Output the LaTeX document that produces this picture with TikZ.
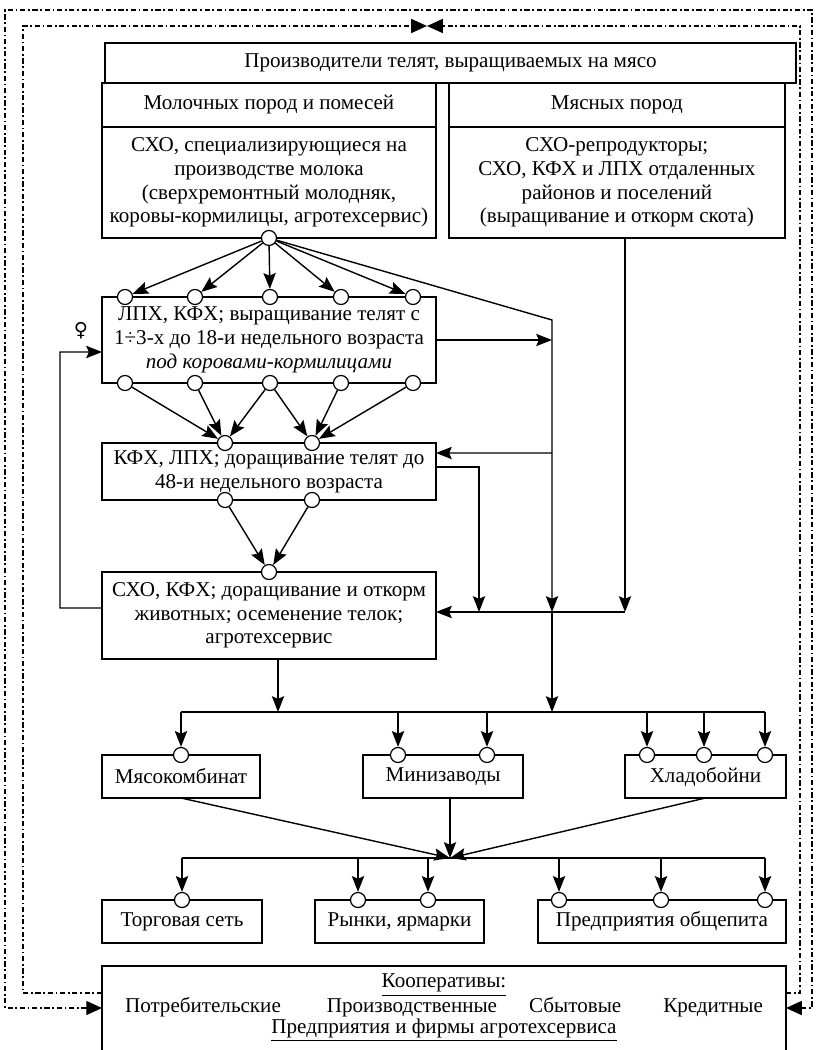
\documentclass[tikz,border=0pt]{standalone}
\usepackage{fontspec}
\setmainfont{Liberation Serif}
\newfontfamily\dejavu{DejaVu Sans}
\usetikzlibrary{arrows.meta, positioning, calc}

\begin{document}
\begin{tikzpicture}[
      x=0.02cm, y=-0.02cm,
      font=\fontsize{12}{13.5}\selectfont,
      box/.style={draw, line width=0.9pt, rectangle, align=center, inner sep=2pt, outer sep=0pt},
      port/.style={draw, line width=0.7pt, circle, fill=white, minimum size=0.3cm, inner sep=0pt},
      arrow/.style={line width=0.8pt, ->, >={Stealth[length=9pt,width=7pt,inset=1.5pt]}},
      link/.style={line width=0.8pt},
      dashloop/.style={line width=0.7pt, dash pattern=on 3pt off 1.5pt on 1pt off 1.5pt, >={Stealth[length=9pt,width=8pt,inset=0pt]}}
        ]
        \useasboundingbox (0,0) rectangle (815,1050);

        % Producers
        \node (prod) [box, minimum width=13.82cm, minimum height=0.8cm] at (450.5,63) {Производители телят, выращиваемых на мясо};
        \node (dairyh) [box, minimum width=6.68cm, minimum height=0.88cm, anchor=north west] at (102,83) {Молочных пород и помесей};
        \node (beefh) [box, minimum width=6.72cm, minimum height=0.88cm, right=0.26cm of dairyh] {Мясных пород};
        \node (dairy) [box, minimum width=6.68cm, minimum height=2.22cm, below=0pt of dairyh] {СХО, специализирующиеся на\\ производстве молока\\ (сверхремонтный молодняк,\\ коровы-кормилицы, агротехсервис)};
        \node (beef) [box, minimum width=6.72cm, minimum height=2.22cm, below=0pt of beefh] {СХО-репродукторы;\\ СХО, КФХ и ЛПХ отдаленных\\ районов и поселений\\ (выращивание и откорм скота)};

        % Growing stages
        \node (lph) [box, minimum width=6.68cm, minimum height=1.72cm] at (269,340) {ЛПХ, КФХ; выращивание телят с\\ 1÷3-х до 18-и недельного возраста\\ \textit{под коровами-кормилицами}};
        \node (kfh) [box, minimum width=6.68cm, minimum height=1.14cm] at (269,471.5) {КФХ, ЛПХ; доращивание телят до\\ 48-и недельного возраста};
        \node (sho) [box, minimum width=6.68cm, minimum height=1.74cm] at (269,615.5) {СХО, КФХ; доращивание и откорм\\ животных; осеменение телок;\\ агротехсервис};

        % Processing
        \node (meat) [box, minimum width=3.16cm, minimum height=0.86cm] at (181,776.5) {Мясокомбинат};
        \node (mini) [box, minimum width=3.2cm, minimum height=0.86cm] at (443,776.5) {Минизаводы};
        \node (cold) [box, minimum width=3.22cm, minimum height=0.86cm] at (705.5,776.5) {Хладобойни};

        % Sales
        \node (trade) [box, minimum width=3.2cm, minimum height=0.86cm] at (182,921.5) {Торговая сеть};
        \node (market) [box, minimum width=3.38cm, minimum height=0.86cm] at (399.5,921.5) {Рынки, ярмарки};
        \node (food) [box, minimum width=4.96cm, minimum height=0.86cm] at (662,921.5) {Предприятия общепита};

        % Cooperatives
        \node (coop) [box, minimum width=13.68cm, minimum height=1.9cm, anchor=north] at (444,966) {};
        \node (cooptxt) [align=center, inner sep=0pt, font=\fontsize{12}{12}\selectfont] at (444,1008) {\underline{Кооперативы:}\\ Потребительские\hspace{0.92cm}Производственные\hspace{0.64cm}Сбытовые\hspace{0.84cm}Кредитные\\ \underline{Предприятия и фирмы агротехсервиса}};

        % Ports
        \node (d0) [port] at (dairy.south) {};
        \foreach \i/\x in {1/125,2/195,3/270,4/341,5/413} {
          \node (lt\i) [port] at (\x,297) {};
          \node (lb\i) [port] at (\x,383) {};
        }
        \node (kt1) [port] at (225,443) {};
        \node (kt2) [port] at (312,443) {};
        \node (kb1) [port] at (225,500) {};
        \node (kb2) [port] at (312,500) {};
        \node (st) [port] at (sho.north) {};
        \node (mp) [port] at (meat.north) {};
        \node (n1) [port] at (398,755) {};
        \node (n2) [port] at (487,755) {};
        \node (c1) [port] at (647,755) {};
        \node (c2) [port] at (704,755) {};
        \node (c3) [port] at (765,755) {};
        \node (tp) [port] at (trade.north) {};
        \node (r1) [port] at (358,900) {};
        \node (r2) [port] at (428,900) {};
        \node (f1) [port] at (559,900) {};
        \node (f2) [port] at (661,900) {};
        \node (f3) [port] at (765,900) {};

        % Junctions
        \coordinate (j1) at (552,320);
        \coordinate (j2) at (552,612);
        \coordinate (b1) at (552,712);
        \coordinate (q1) at (625,612);
        \coordinate (k1) at (552,453);
        \coordinate (k2) at (479,612);
        \coordinate (b0) at (278,712);
        \coordinate (fb) at (60,352);
        \coordinate (m0) at (450,858);

        % Arrows from dairy farms
        \foreach \i in {1,...,5} \draw [arrow] (d0) -- (lt\i);
        \draw [arrow] (d0) -- (j1) -- (j2);
        \draw [arrow] (j2) -- (b1);
        \draw [arrow] (beef.south -| q1) -- (q1);
        \draw [arrow] (q1) -- (sho.east |- q1);
        \draw [arrow] (lph.east) -- (lph.east -| j1);
        \draw [arrow] (k1) -- ([yshift=0.37cm]kfh.east);
        \draw [arrow] ([yshift=0.09cm]kfh.east) -| (k2);

        % Between the stages
        \foreach \a/\b in {lb1/kt1,lb2/kt1,lb3/kt1,lb3/kt2,lb4/kt2,lb5/kt2,kb1/st,kb2/st}
          \draw [arrow] (\a) -- (\b);
        \draw [arrow] ([yshift=0.15cm]sho.west) -| (fb) -- ([yshift=-0.24cm]lph.west);
        \node (venus) at (81,331) {\dejavu\fontsize{11}{11}\selectfont ♀};

        % To processing
        \draw [arrow] (sho.south -| b0) -- (b0);
        \draw [link] (mp |- b0) -- (c3 |- b0);
        \foreach \p in {mp,n1,n2,c1,c2,c3} \draw [arrow] (\p |- b0) -- (\p);

        % To sales
        \draw [arrow] (meat.south) -- (m0);
        \draw [arrow] (mini.south -| m0) -- (m0);
        \draw [arrow] (cold.south) -- (m0);
        \draw [link] (tp |- m0) -- (f3 |- m0);
        \foreach \p in {tp,r1,r2,f1,f2,f3} \draw [arrow] (\p |- m0) -- (\p);

        % Feedback loops
        \coordinate (ol) at (5,10);
        \coordinate (or) at (812,10);
        \coordinate (il) at (23,26);
        \coordinate (ir) at (800,26);
        \coordinate (mid) at (427,26);
        \coordinate (oy) at (0,1008);
        \coordinate (iy) at (0,993);
        \draw [dashloop, <->] (coop.west |- oy) -| (ol) -- (or) |- (coop.east |- oy);
        \draw [dashloop, ->] (coop.west |- iy) -| (il) -- (mid);
        \draw [dashloop, ->] (coop.east |- iy) -| (ir) -- (mid);

          \end{tikzpicture}
\end{document}
